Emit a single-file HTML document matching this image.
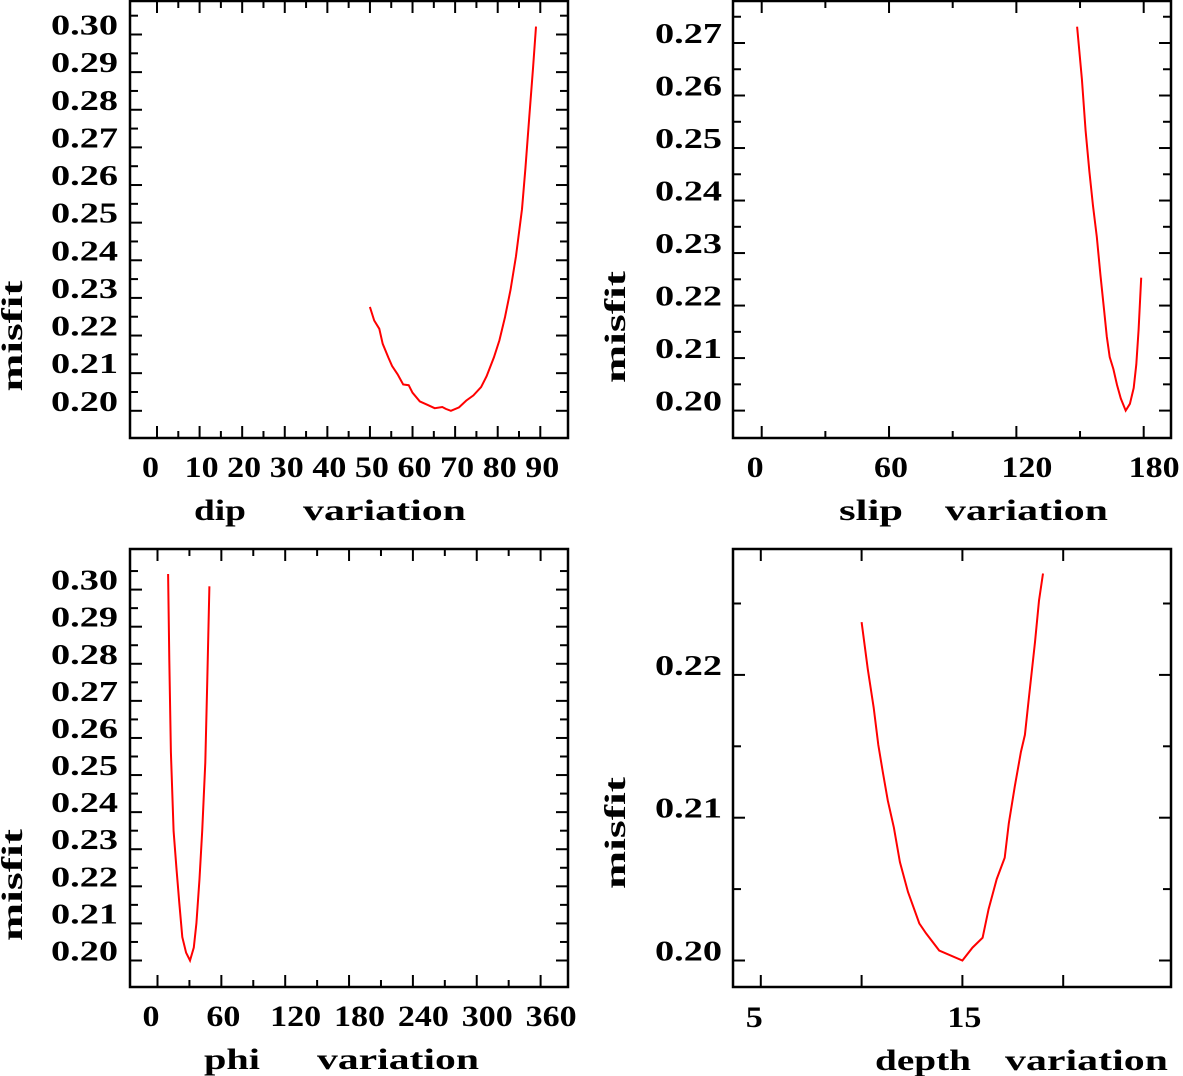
<!DOCTYPE html>
<html><head><meta charset="utf-8"><style>
html,body{margin:0;padding:0;background:#fff;}
svg{display:block;}
text{font-family:"Liberation Serif",serif;font-weight:bold;fill:#000;}
</style></head><body>
<svg id="chart" width="1183" height="1076" viewBox="0 0 1183 1076" xmlns="http://www.w3.org/2000/svg"></svg>
<script>
// ---- data ----
const dipX = [50,51,52.2,53,54.3,55.2,56.5,57.8,59.1,60,61.7,63.5,65.2,67,67.8,69,70.9,72.6,74.3,76.1,77.4,79.1,80.4,81.7,83,84.3,85.7,86.5,87.4,88.3,89];
const dipY = [0.2276,0.224,0.2218,0.2178,0.2142,0.2119,0.2097,0.207,0.2068,0.2048,0.2025,0.2016,0.2007,0.201,0.2005,0.2,0.2009,0.2027,0.2041,0.2063,0.2092,0.2142,0.2187,0.2249,0.2321,0.2411,0.2536,0.2644,0.2778,0.2913,0.3021];
const slipX = [148.6,150.9,152.6,154.4,156.1,157.9,159.6,161.3,162.6,164,165.7,167.4,169.2,171.5,173.5,175.3,176.5,177.6,178.8];
const slipY = [0.2731,0.2631,0.2533,0.2455,0.239,0.2331,0.2259,0.2193,0.2141,0.2102,0.2079,0.2049,0.2023,0.2,0.2013,0.2043,0.2088,0.2154,0.2253];
const phiX = [10,11.1,12.6,15.1,17.9,20.5,23.3,26.9,30.5,34.1,36.6,39.5,42,44.9,46.7,48.8];
const phiY = [0.3042,0.2811,0.2561,0.2349,0.2247,0.2155,0.2063,0.2021,0.2,0.2035,0.21,0.222,0.2349,0.2534,0.2746,0.3009];
const depthX = [10,10.31,10.6,10.83,11.05,11.3,11.6,11.9,12.3,12.86,13.2,13.85,15,15.5,16,16.3,16.7,17.1,17.3,17.6,17.9,18.1,18.3,18.6,18.8,19];
const depthY = [0.2237,0.2204,0.2177,0.2151,0.2132,0.2112,0.2093,0.2069,0.2048,0.2026,0.2019,0.2007,0.2,0.2009,0.2016,0.2036,0.2057,0.2072,0.2096,0.2122,0.2146,0.2158,0.2184,0.2223,0.2252,0.2271];
const dipXTicks = ["0","10","20","30","40","50","60","70","80","90"];
const slipXTicks = ["0","60","120","180"];
const phiXTicks = ["0","60","120","180","240","300","360"];
const depthXTicks = ["5","15"];
const dipYTicks = ["0.20","0.21","0.22","0.23","0.24","0.25","0.26","0.27","0.28","0.29","0.30"];
const slipYTicks = ["0.20","0.21","0.22","0.23","0.24","0.25","0.26","0.27"];
const phiYTicks = ["0.20","0.21","0.22","0.23","0.24","0.25","0.26","0.27","0.28","0.29","0.30"];
const depthYTicks = ["0.20","0.21","0.22"];

const NS="http://www.w3.org/2000/svg";
const svg=document.getElementById('chart');
function mk(tag,attrs,parent){const e=document.createElementNS(NS,tag);for(const k in attrs)e.setAttribute(k,attrs[k]);(parent||svg).appendChild(e);return e;}

function panel(cfg){
  const g=mk('g',{});
  
  
  const L=cfg.box[0],T=cfg.box[1],R=cfg.box[2],B=cfg.box[3];
  const xs=v=>cfg.x0+(v-cfg.xv0)*(cfg.x1-cfg.x0)/(cfg.xv1-cfg.xv0);
  const ys=v=>cfg.y0+(v-cfg.yv0)*(cfg.y1-cfg.y0)/(cfg.yv1-cfg.yv0);
  const frame=mk('rect',{x:L,y:T,width:R-L,height:B-T,fill:'none',stroke:'#000','stroke-width':2.5},g);
  
  
  // x ticks
  for(let v=cfg.xtMin;v<=cfg.xtMax+1e-9;v+=cfg.xtStep){
    const major=Math.abs(((v-cfg.xtMin)/cfg.xtStep)%cfg.xMajEvery)<1e-6;
    const len=major?12:7;const x=xs(v);
    mk('line',{x1:x,y1:B,x2:x,y2:B-len,stroke:'#000','stroke-width':2},g);
    mk('line',{x1:x,y1:T,x2:x,y2:T+len,stroke:'#000','stroke-width':2},g);
  }
  for(let v=cfg.ytMin;v<=cfg.ytMax+1e-9;v+=cfg.ytStep){
    const major=Math.abs(Math.round((v-cfg.ytMin)/cfg.ytStep)%cfg.yMajEvery)<1e-6;
    const len=major?12:8;const y=ys(v);
    mk('line',{x1:L,y1:y,x2:L+len,y2:y,stroke:'#000','stroke-width':2},g);
    mk('line',{x1:R,y1:y,x2:R-len,y2:y,stroke:'#000','stroke-width':2},g);
  }
  cfg.xTicks.forEach(s=>{
    const t=mk('text',{x:xs(parseFloat(s))-15,y:cfg.xLabY,'font-size':30,textLength:s.length*17,lengthAdjust:'spacingAndGlyphs'},g);
    t.textContent=s;
    
    
  });
  cfg.yTicks.forEach(s=>{
    const t=mk('text',{x:cfg.yLabR,y:ys(parseFloat(s)),'font-size':29,'text-anchor':'end',textLength:67,lengthAdjust:'spacingAndGlyphs'},g);
    t.textContent=s;
    
    
  });
  const yt=mk('text',{x:0,y:0,'font-size':30,'text-anchor':'middle',textLength:cfg.misfit[2],lengthAdjust:'spacingAndGlyphs',transform:`translate(${cfg.misfit[0]},${cfg.misfit[1]}) rotate(-90)`},g);
  yt.textContent='misfit';
  
  
  cfg.titles.forEach(tt=>{
    const t=mk('text',{x:tt[1],y:cfg.titleY,'font-size':30,textLength:tt[2]-tt[1],lengthAdjust:'spacingAndGlyphs'},g);
    t.textContent=tt[0];
    
    
  });
  const pts=cfg.xs.map((v,i)=>xs(v).toFixed(1)+','+ys(cfg.ys[i]).toFixed(1)).join(' ');
  const line=mk('polyline',{points:pts,fill:'none',stroke:'#ff0000','stroke-width':2},g);
  
  
}

panel({name:'dip',box:[130,1,568,438],x0:157,x1:540.3,xv0:0,xv1:90,y0:410.8,y1:34.5,yv0:0.20,yv1:0.30,
  xtMin:0,xtMax:90,xtStep:5,xMajEvery:2,ytMin:0.20,ytMax:0.305,ytStep:0.005,yMajEvery:2,
  xTicks:dipXTicks,yTicks:dipYTicks,xLabY:477,yLabR:118,misfit:[22,336,111],
  titles:[['dip',194,246],['variation',303,466]],titleY:520,xs:dipX,ys:dipY});
panel({name:'slip',box:[733,1,1171,438],x0:761.7,x1:1143.7,xv0:0,xv1:180,y0:410.6,y1:43,yv0:0.20,yv1:0.27,
  xtMin:0,xtMax:180,xtStep:30,xMajEvery:2,ytMin:0.20,ytMax:0.275,ytStep:0.005,yMajEvery:2,
  xTicks:slipXTicks,yTicks:slipYTicks,xLabY:477,yLabR:722,misfit:[625,327,112],
  titles:[['slip',839,903],['variation',945,1108]],titleY:520,xs:slipX,ys:slipY});
panel({name:'phi',box:[130,549,568,987],x0:157.5,x1:540.6,xv0:0,xv1:360,y0:960.5,y1:589.6,yv0:0.20,yv1:0.30,
  xtMin:0,xtMax:360,xtStep:30,xMajEvery:2,ytMin:0.20,ytMax:0.305,ytStep:0.005,yMajEvery:2,
  xTicks:phiXTicks,yTicks:phiYTicks,xLabY:1026,yLabR:118,misfit:[22,885,112],
  titles:[['phi',204,260],['variation',317,479]],titleY:1069,xs:phiX,ys:phiY});
panel({name:'depth',box:[733,549,1171,987],x0:760.8,x1:962.4,xv0:5,xv1:15,y0:960.5,y1:674.9,yv0:0.20,yv1:0.22,
  xtMin:5,xtMax:20,xtStep:5,xMajEvery:1,ytMin:0.20,ytMax:0.225,ytStep:0.005,yMajEvery:2,
  xTicks:depthXTicks,yTicks:depthYTicks,xLabY:1027,yLabR:722,misfit:[625,833,112],
  titles:[['depth',875,971],['variation',1005,1168]],titleY:1070,xs:depthX,ys:depthY});
</script>
</body></html>
